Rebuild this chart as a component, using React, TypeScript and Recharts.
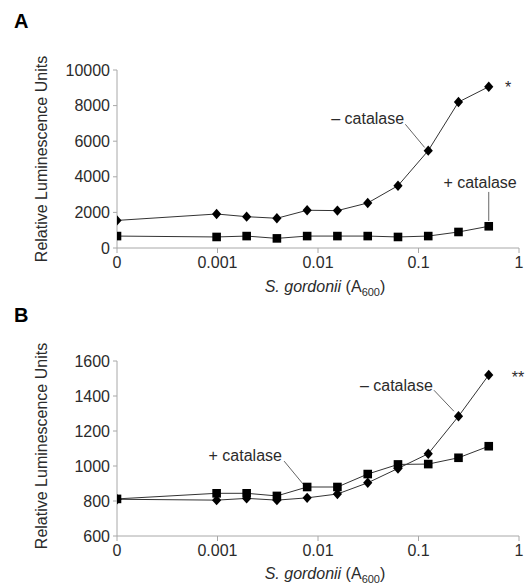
import React from "react";
import { LineChart, Line, XAxis, YAxis, ReferenceLine, ReferenceDot } from "recharts";

// S. gordonii concentrations (A600); 0 is drawn at the "0" position of the log axis
const concentrations = [0, 0.00098, 0.00195, 0.0039, 0.0078, 0.0156, 0.03125, 0.0625, 0.125, 0.25, 0.5];
const ZERO_POS = 0.0001;
const xTicks = [0.0001, 0.001, 0.01, 0.1, 1];

const aMinusCatalase = [1550, 1910, 1760, 1670, 2120, 2100, 2530, 3500, 5470, 8200, 9060];
const aPlusCatalase = [670, 620, 670, 540, 670, 670, 670, 620, 670, 900, 1220];
const aYTicks = [0, 2000, 4000, 6000, 8000, 10000];

const bMinusCatalase = [810, 805, 815, 805, 818, 840, 904, 986, 1070, 1284, 1520];
const bPlusCatalase = [812, 844, 844, 829, 880, 880, 954, 1009, 1011, 1047, 1113];
const bYTicks = [600, 800, 1000, 1200, 1400, 1600];

const FONT = '"Liberation Sans", Arial, Helvetica, sans-serif';
const TXT = "#2b2b2b";
const AXIS = "#a8a8a8";

const buildRows = (minus: number[], plus: number[]) =>
  concentrations.map((c, i) => ({ x: c === 0 ? ZERO_POS : c, minus: minus[i], plus: plus[i] }));

const Diamond = (p: any) => {
  const { cx, cy } = p;
  if (cx == null || cy == null) return <g />;
  return <path d={`M${cx},${cy - 5.2} L${cx + 4.6},${cy} L${cx},${cy + 5.2} L${cx - 4.6},${cy} Z`} fill="#000" />;
};
const Square = (p: any) => {
  const { cx, cy } = p;
  if (cx == null || cy == null) return <g />;
  return <rect x={cx - 4.3} y={cy - 4.3} width={8.6} height={8.6} fill="#000" />;
};

type Note = { x: number; y: number; text: string; anchor: "start" | "middle" | "end" };
type Seg = [{ x: number; y: number }, { x: number; y: number }];

const noteShape = (n: Note) => (p: any) => (
  <text x={p.cx} y={p.cy} textAnchor={n.anchor} dominantBaseline="central" fontFamily={FONT} fontSize={16} fill={TXT}>
    {n.text}
  </text>
);

function Panel(props: {
  minus: number[];
  plus: number[];
  yTicks: number[];
  domain: [number, number];
  notes: Note[];
  segs: Seg[];
  height: number;
  marginTop: number;
  marginBottom: number;
}) {
  const rows = buildRows(props.minus, props.plus);
  return (
    <LineChart
      width={527}
      height={props.height}
      data={rows}
      margin={{ top: props.marginTop, right: 8, left: 57, bottom: props.marginBottom }}
    >
      <XAxis
        dataKey="x"
        type="number"
        scale="log"
        domain={[0.0001, 1]}
        ticks={xTicks}
        allowDataOverflow
        tickFormatter={(v: number) => (v === ZERO_POS ? "0" : String(v))}
        stroke={AXIS}
        tickSize={5}
        tickMargin={4}
        height={30}
        tick={{ fill: TXT, fontSize: 16, fontFamily: FONT }}
        interval={0}
      />
      <YAxis
        type="number"
        domain={props.domain}
        ticks={props.yTicks}
        stroke={AXIS}
        width={60}
        tickSize={4}
        tickMargin={3}
        tick={{ fill: TXT, fontSize: 16, fontFamily: FONT }}
        interval={0}
      />
      {props.segs.map((s, i) => (
        <ReferenceLine key={"s" + i} segment={s} stroke="#666" strokeWidth={1} ifOverflow="visible" />
      ))}
      <Line type="linear" dataKey="minus" stroke="#333" strokeWidth={1} dot={<Diamond />} isAnimationActive={false} />
      <Line type="linear" dataKey="plus" stroke="#333" strokeWidth={1} dot={<Square />} isAnimationActive={false} />
      {props.notes.map((n, i) => (
        <ReferenceDot key={"n" + i} x={n.x} y={n.y} r={0} ifOverflow="visible" shape={noteShape(n)} />
      ))}
    </LineChart>
  );
}

export default function App() {
  return (
    <div style={{ position: "absolute", left: 0, top: 0, width: 527, height: 585, background: "#fff" }}>
      <div style={{ position: "absolute", left: 0, top: 0 }}>
        <Panel
          minus={aMinusCatalase}
          plus={aPlusCatalase}
          yTicks={aYTicks}
          domain={[0, 10000]}
          height={295}
          marginTop={70}
          marginBottom={17}
          notes={[
            { x: 0.072, y: 7250, text: "– catalase", anchor: "end" },
            { x: 0.41, y: 3700, text: "+ catalase", anchor: "middle" },
            { x: 0.78, y: 9000, text: "*", anchor: "middle" },
          ]}
          segs={[
            [{ x: 0.074, y: 6950 }, { x: 0.115, y: 5650 }],
            [{ x: 0.5, y: 3150 }, { x: 0.5, y: 1520 }],
          ]}
        />
      </div>
      <div style={{ position: "absolute", left: 0, top: 290 }}>
        <Panel
          minus={bMinusCatalase}
          plus={bPlusCatalase}
          yTicks={bYTicks}
          domain={[600, 1600]}
          height={295}
          marginTop={71}
          marginBottom={19}
          notes={[
            { x: 0.139, y: 1461, text: "– catalase", anchor: "end" },
            { x: 0.00438, y: 1062, text: "+ catalase", anchor: "end" },
            { x: 0.975, y: 1508, text: "**", anchor: "middle" },
          ]}
          segs={[
            [{ x: 0.1425, y: 1433 }, { x: 0.225, y: 1313 }],
            [{ x: 0.0046, y: 1028 }, { x: 0.0071, y: 897 }],
          ]}
        />
      </div>
      <svg width={527} height={585} style={{ position: "absolute", left: 0, top: 0, pointerEvents: "none" }}>
        <text x={14} y={28} fontFamily={FONT} fontWeight="bold" fontSize={20} fill="#000">A</text>
        <text x={14} y={322} fontFamily={FONT} fontWeight="bold" fontSize={20} fill="#000">B</text>
        <text
          transform="translate(47,159) rotate(-90)"
          textAnchor="middle"
          fontFamily={FONT}
          fontSize={16}
          fill={TXT}
        >
          Relative Luminescence Units
        </text>
        <text
          transform="translate(47,446) rotate(-90)"
          textAnchor="middle"
          fontFamily={FONT}
          fontSize={16}
          fill={TXT}
        >
          Relative Luminescence Units
        </text>
        <text x={325} y={292} textAnchor="middle" fontFamily={FONT} fontSize={16} fill={TXT}>
          <tspan fontStyle="italic">S. gordonii</tspan>
          <tspan> (A</tspan>
          <tspan fontSize={11} dy={4}>600</tspan>
          <tspan dy={-4}>)</tspan>
        </text>
        <text x={325} y={579} textAnchor="middle" fontFamily={FONT} fontSize={16} fill={TXT}>
          <tspan fontStyle="italic">S. gordonii</tspan>
          <tspan> (A</tspan>
          <tspan fontSize={11} dy={4}>600</tspan>
          <tspan dy={-4}>)</tspan>
        </text>
      </svg>
    </div>
  );
}
